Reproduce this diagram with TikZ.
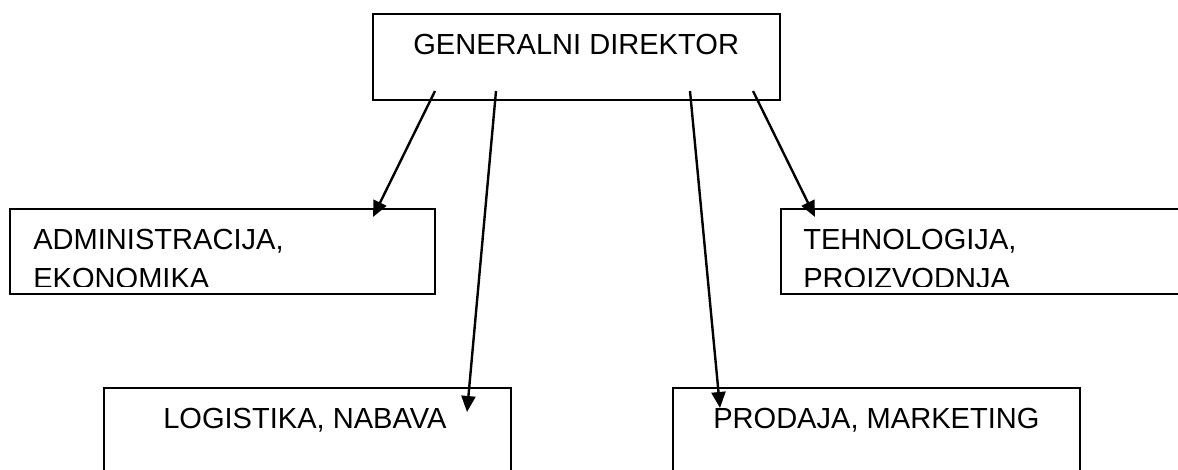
\documentclass[tikz,border=0pt]{standalone}
\usepackage{fontspec}
\setmainfont{Liberation Sans}
\usetikzlibrary{calc,arrows.meta}
\tikzset{
  box/.style={draw=black, line width=1.8pt, rectangle, inner sep=0pt, outer sep=0pt},
  lbl/.style={anchor=base west, inner sep=0pt, font=\fontsize{21.8}{29}\selectfont},
  conn/.style={line width=1.8pt, -{Triangle[length=12pt,width=10.5pt]}}
}
\begin{document}
\begin{tikzpicture}[x=0.75pt,y=-0.75pt]
\useasboundingbox (0,0) rectangle (1178,469);
\clip (0,0) rectangle (1178,469);
% boxes
\node[box, minimum width=407*0.75pt, minimum height=86*0.75pt] (gd) at (576.5,57) {};
\node[box, minimum width=425*0.75pt, minimum height=85*0.75pt] (adm) at (222.5,251.5) {};
\node[box, minimum width=440*0.75pt, minimum height=85*0.75pt] (teh) at (1001,251.5) {};
\node[box, minimum width=407*0.75pt, minimum height=140*0.75pt] (log) at (307.5,458) {};
\node[box, minimum width=407*0.75pt, minimum height=140*0.75pt] (pro) at (876.5,458) {};
% texts
\node[lbl] (tgd) at (413,54) {GENERALNI DIREKTOR};
\begin{scope}
\clip (10,209) rectangle (435,286);
\node[lbl] (tadm1) at (33,249) {ADMINISTRACIJA,};
\node[lbl] (tadm2) at (33,288) {EKONOMIKA};
\end{scope}
\begin{scope}
\clip (781,209) rectangle (1178,286);
\node[lbl] (tteh1) at (803,249) {TEHNOLOGIJA,};
\node[lbl] (tteh2) at (803,288) {PROIZVODNJA};
\end{scope}
\node[lbl] (tlog) at (163,428) {LOGISTIKA, NABAVA};
\node[lbl] (tpro) at (713,428) {PRODAJA, MARKETING};
% connector end points
\coordinate (s1) at ($(gd.south west)+(62,-9)$);
\coordinate (s2) at ($(gd.south west)+(123,-9)$);
\coordinate (s3) at ($(gd.south west)+(317,-9)$);
\coordinate (s4) at ($(gd.south west)+(380,-9)$);
\coordinate (e1) at ($(adm.north west)+(363,8)$);
\coordinate (e2) at ($(log.north west)+(363,24)$);
\coordinate (e3) at ($(pro.north west)+(47,20)$);
\coordinate (e4) at ($(teh.north west)+(34,8)$);
\draw[conn] (s1) -- (e1);
\draw[conn] (s2) -- (e2);
\draw[conn] (s3) -- (e3);
\draw[conn] (s4) -- (e4);
\end{tikzpicture}
\end{document}
